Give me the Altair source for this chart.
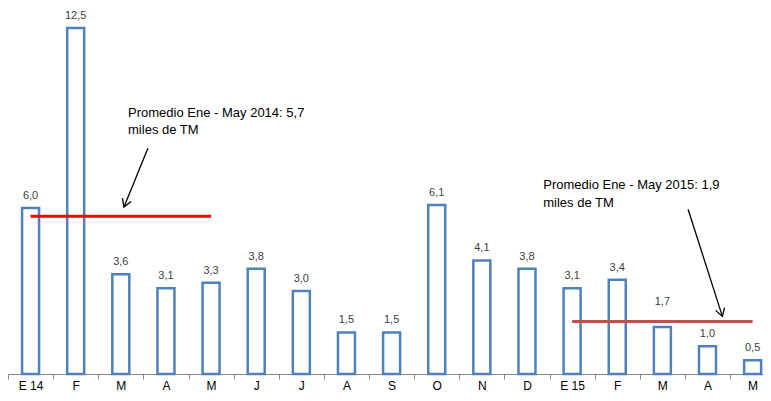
import json
import altair as alt
import pandas as pd

# ---- data ----
labels = ["E 14", "F", "M", "A", "M", "J", "J", "A", "S", "O", "N", "D",
          "E 15", "F", "M", "A", "M"]
values = [6.0, 12.5, 3.6, 3.1, 3.3, 3.8, 3.0, 1.5, 1.5, 6.1, 4.1, 3.8,
          3.1, 3.4, 1.7, 1.0, 0.5]

avg_names = ["2014", "2015"]
avg_values = [5.7, 1.9]
avg_start = [0, 12]
avg_end = [4, 16]

note_texts = ["Promedio Ene - May 2014: 5,7\nmiles de TM",
              "Promedio  Ene - May 2015: 1,9\nmiles de TM"]
note_x = [2.16, 11.36]
note_y = [9.30, 6.67]

arrow_x = [2.60, 14.57]
arrow_y = [8.15, 5.95]
arrow_x2 = [2.07, 15.33]
arrow_y2 = [6.03, 2.08]

bars_df = pd.DataFrame({"idx": list(range(len(values))), "value": values})
avg_df = pd.DataFrame({"name": avg_names, "value": avg_values,
                       "start": avg_start, "end": avg_end})
note_df = pd.DataFrame({"name": avg_names, "text": note_texts,
                        "nx": note_x, "ny": note_y})
arrow_df = pd.DataFrame({"name": avg_names, "ax": arrow_x, "ay": arrow_y,
                         "ax2": arrow_x2, "ay2": arrow_y2})

FONT = "Liberation Sans"
xscale = alt.Scale(domain=[-0.5, 16.23], nice=False, zero=False, padding=0)
yscale = alt.Scale(domain=[0, 13.22], nice=False, zero=True, padding=0)

tick_values = [v / 2 for v in range(-1, 34)]
xaxis = alt.Axis(
    values=tick_values,
    labelExpr=f"datum.value % 1 === 0 ? {json.dumps(labels)}[datum.value] : ''",
    tickOpacity={"condition": {"test": "datum.value % 1 !== 0", "value": 1}, "value": 0},
    grid=False, title=None, labelOverlap=False, labelFlush=False,
    domainColor="#868686", tickColor="#868686", tickSize=5,
    labelFont=FONT, labelFontSize=12, labelColor="#000000",
    labelPadding=1, labelBaseline="top",
)


def X(field):
    return alt.X(field, scale=xscale, axis=xaxis)


def Y(field):
    return alt.Y(field, scale=yscale, axis=None)


base = alt.Chart(bars_df)

bars = base.mark_bar(orient="vertical", size=17, fill="white",
                     stroke="#4F81BD", strokeWidth=2.5).encode(
    x=X("idx:Q"),
    y=Y("value:Q"),
)

lbl = base.transform_calculate(
    lab="replace(format(datum.value, '.1f'), '.', ',')"
)
labels_main = lbl.transform_filter("datum.idx != 14").mark_text(
    dy=-12, baseline="middle", fontSize=11, font=FONT, color="#404040"
).encode(x=X("idx:Q"), y=Y("value:Q"), text="lab:N")
labels_moved = lbl.transform_filter("datum.idx == 14").mark_text(
    dy=-25, baseline="middle", fontSize=11, font=FONT, color="#404040"
).encode(x=X("idx:Q"), y=Y("value:Q"), text="lab:N")

avg_base = alt.Chart(avg_df).encode(
    x=X("start:Q"), x2="end:Q", y=Y("value:Q"),
)
line14 = avg_base.transform_filter("datum.name == '2014'").mark_rule(
    color="#FF0000", strokeWidth=3)
line15 = avg_base.transform_filter("datum.name == '2015'").mark_rule(
    color="#C0504D", strokeWidth=3)

arr_base = alt.Chart(arrow_df)
shafts = arr_base.mark_rule(color="black", strokeWidth=1.3).encode(
    x=X("ax:Q"), y=Y("ay:Q"), x2="ax2:Q", y2="ay2:Q",
)
head_shape = "M-0.6,-1L0,0L0.6,-1"
head14 = arr_base.transform_filter("datum.name == '2014'").mark_point(
    shape=head_shape, filled=False, size=240, stroke="black",
    strokeWidth=1.3, angle=21, opacity=1).encode(
    x=X("ax2:Q"), y=Y("ay2:Q"),
)
head15 = arr_base.transform_filter("datum.name == '2015'").mark_point(
    shape=head_shape, filled=False, size=240, stroke="black",
    strokeWidth=1.3, angle=343, opacity=1).encode(
    x=X("ax2:Q"), y=Y("ay2:Q"),
)

notes = alt.Chart(note_df).mark_text(
    align="left", baseline="alphabetic", fontSize=13, font=FONT,
    color="black", lineBreak="\n", lineHeight=17.5
).encode(x=X("nx:Q"), y=Y("ny:Q"), text="text:N")

chart = alt.layer(
    bars, labels_main, labels_moved, line14, line15, shafts, head14, head15, notes
).properties(
    width=755, height=366,
    padding={"left": 0, "top": 0, "right": 0, "bottom": 19},
    autosize=alt.AutoSizeParams(type="none"),
    background="white",
).configure_view(stroke=None)

chart.save("out.html", embed_options={"renderer": "svg", "actions": False})
